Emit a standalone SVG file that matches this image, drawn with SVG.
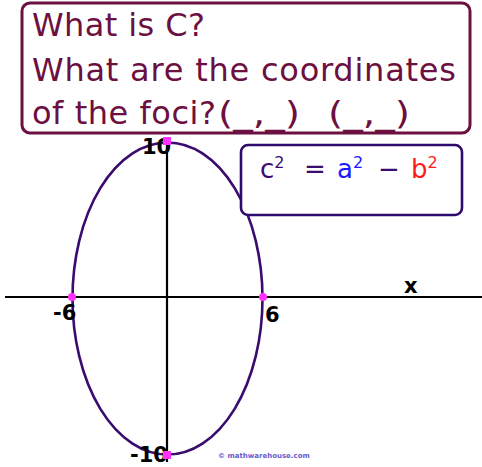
<svg xmlns="http://www.w3.org/2000/svg" width="482" height="467" viewBox="0 0 482 467">
<style>
.q{font-family:"DejaVu Sans",Verdana,sans-serif;font-size:32px;fill:#6b1040}
.lbl{font-family:"DejaVu Sans",sans-serif;font-weight:bold;font-size:21px;fill:#000}
.f{font-family:"DejaVu Sans",Verdana,sans-serif;font-size:26px}
.dot{fill:#ff33ff}
</style>
<rect width="482" height="467" fill="#fff"/>
<g id="connectors">
<line x1="5" y1="297" x2="482" y2="297" stroke="#000" stroke-width="2.2"/>
<line x1="167" y1="142" x2="167" y2="462" stroke="#000" stroke-width="2.2"/>
</g>
<g id="ellipse">
<ellipse cx="167.5" cy="298.5" rx="95" ry="156" fill="none" stroke="#3a0c6e" stroke-width="2.6"/>
</g>
<g id="question">
<rect x="22" y="3" width="448" height="130" rx="8" fill="#fff" stroke="#6b1040" stroke-width="3"/>
<text class="q" x="32" y="36" textLength="173">What is C?</text>
<text class="q" x="32" y="81" textLength="424">What are the coordinates</text>
<text class="q" y="124"><tspan x="32" textLength="184">of the foci?</tspan><tspan x="218" textLength="82" lengthAdjust="spacingAndGlyphs">(_,_)</tspan><tspan x="328" textLength="82" lengthAdjust="spacingAndGlyphs">(_,_)</tspan></text>
</g>
<g id="formula">
<rect x="241" y="145" width="221" height="70" rx="7" fill="#fff" stroke="#2e0a6e" stroke-width="2.6"/>
<text class="f" x="260" y="178"><tspan fill="#3a0c6e">c</tspan><tspan fill="#3a0c6e" font-size="16" dy="-10">2</tspan><tspan fill="#3a0c6e" dy="10" x="304">=</tspan><tspan fill="#1a1aff" x="337">a</tspan><tspan fill="#1a1aff" font-size="16" dy="-10">2</tspan><tspan fill="#3a0c6e" dy="10" x="378">−</tspan><tspan fill="#ff1a1a" x="411">b</tspan><tspan fill="#ff1a1a" font-size="16" dy="-10">2</tspan></text>
</g>
<g id="labels">
<text class="lbl" x="53" y="320">-6</text>
<text class="lbl" x="265" y="322">6</text>
<text class="lbl" x="142" y="154">10</text>
<text class="lbl" x="130" y="462" font-size="20">-10</text>
<text class="lbl" x="404" y="293">x</text>
</g>
<g id="points">
<circle class="dot" cx="72" cy="297" r="4"/>
<circle class="dot" cx="263" cy="297" r="4"/>
<rect class="dot" x="163" y="137" width="8" height="8"/>
<rect class="dot" x="163" y="451" width="8" height="8"/>
</g>
<g id="watermark">
<text x="218" y="458" font-family="DejaVu Sans,sans-serif" font-size="7" font-weight="bold" fill="#6a5acd">© mathwarehouse.com</text>
</g>
</svg>
